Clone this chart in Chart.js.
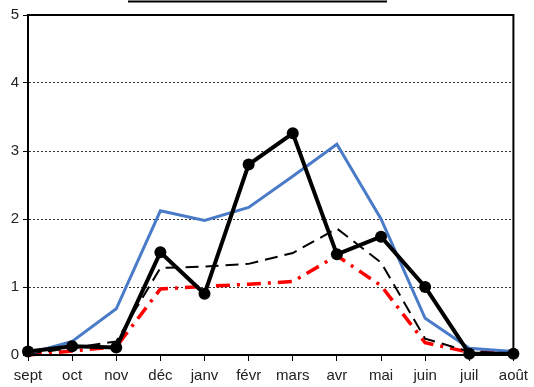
<!DOCTYPE html>
<html>
<head>
<meta charset="utf-8">
<script src="https://cdn.jsdelivr.net/npm/chart.js@4"></script>
<style>
  html, body { margin: 0; padding: 0; background: #fff; }
  #wrap { width: 534px; height: 387px; }
</style>
</head>
<body>
<div id="wrap"><canvas id="chart" width="534" height="387"></canvas></div>
<script>
// months on the x axis
const months = ["sept", "oct", "nov", "déc", "janv", "févr", "mars", "avr", "mai", "juin", "juil", "août"];

// series
const blackMarked = [0.05, 0.13, 0.11, 1.51, 0.9, 2.8, 3.26, 1.48, 1.74, 1.0, 0.02, 0.02];
const blueLine = [0.02, 0.2, 0.68, 2.12, 1.98, 2.17, 2.63, 3.1, 2.0, 0.54, 0.1, 0.05];
const blackDashed = [0.02, 0.1, 0.2, 1.28, 1.3, 1.34, 1.5, 1.86, 1.36, 0.24, 0.05, 0.02];
const redDashDot = [0.0, 0.06, 0.12, 0.97, 1.01, 1.04, 1.08, 1.46, 1.02, 0.18, 0.04, 0.05];

const yTicks = [0, 1, 2, 3, 4, 5];

// frame around the plot and the short rule at the top
const framePlugin = {
  id: "frame",
  afterDatasetsDraw(chart) {
    const { ctx, chartArea } = chart;
    ctx.save();
    ctx.setLineDash([]);
    ctx.strokeStyle = "#000";
    ctx.lineWidth = 2;
    ctx.strokeRect(chartArea.left, chartArea.top, chartArea.right - chartArea.left, chartArea.bottom - chartArea.top);
    ctx.beginPath();
    ctx.moveTo(128, 1.5);
    ctx.lineTo(387, 1.5);
    ctx.stroke();
    ctx.restore();
  },
};

const ctx = document.getElementById("chart").getContext("2d");
new Chart(ctx, {
  type: "line",
  data: {
    labels: months,
    datasets: [
      {
        data: blackMarked,
        borderColor: "#000",
        backgroundColor: "#000",
        borderWidth: 4,
        pointRadius: 6,
        pointHoverRadius: 6,
        pointBackgroundColor: "#000",
        pointBorderWidth: 0,
        tension: 0,
      },
      {
        data: blueLine,
        borderColor: "#4A7BC8",
        borderWidth: 3,
        pointRadius: 0,
        tension: 0,
      },
      {
        data: blackDashed,
        borderColor: "#000",
        borderWidth: 2,
        borderDash: [13, 7],
        pointRadius: 0,
        tension: 0,
      },
      {
        data: redDashDot,
        borderColor: "#FF0000",
        borderWidth: 3.5,
        borderDash: [14, 7, 3, 7],
        pointRadius: 0,
        tension: 0,
      },
    ],
  },
  options: {
    responsive: false,
    animation: false,
    events: [],
    clip: false,
    layout: { padding: { top: 15, right: 19, left: 0, bottom: 0 } },
    plugins: {
      legend: { display: false },
      tooltip: { enabled: false },
      title: { display: false },
    },
    scales: {
      x: {
        offset: false,
        grid: {
          drawOnChartArea: false,
          drawTicks: true,
          tickLength: 6,
          tickColor: "#000",
          tickWidth: 1,
        },
        border: { color: "#000", width: 2 },
        ticks: {
          color: "#222",
          font: { family: "Liberation Sans, Arial", size: 15 },
          padding: 6,
          maxRotation: 0,
          autoSkip: false,
        },
        afterFit(scale) {
          scale.height = 32;
        },
      },
      y: {
        min: 0,
        max: 5,
        afterBuildTicks(scale) {
          scale.ticks = yTicks.map((v) => ({ value: v }));
        },
        grid: {
          color: (c) => (c.tick && c.tick.value > 0 && c.tick.value < 5 ? "#333" : "rgba(0,0,0,0)"),
          lineWidth: 1,
          drawTicks: true,
          tickLength: 5,
          tickColor: "#000",
          tickWidth: 1,
          tickBorderDash: [],
        },
        border: { color: "#000", width: 2, dash: [2, 2] },
        ticks: {
          color: "#222",
          font: { family: "Liberation Sans, Arial", size: 15 },
          padding: 4,
        },
        afterFit(scale) {
          scale.width = 28;
        },
      },
    },
  },
  plugins: [framePlugin],
});
</script>
</body>
</html>
